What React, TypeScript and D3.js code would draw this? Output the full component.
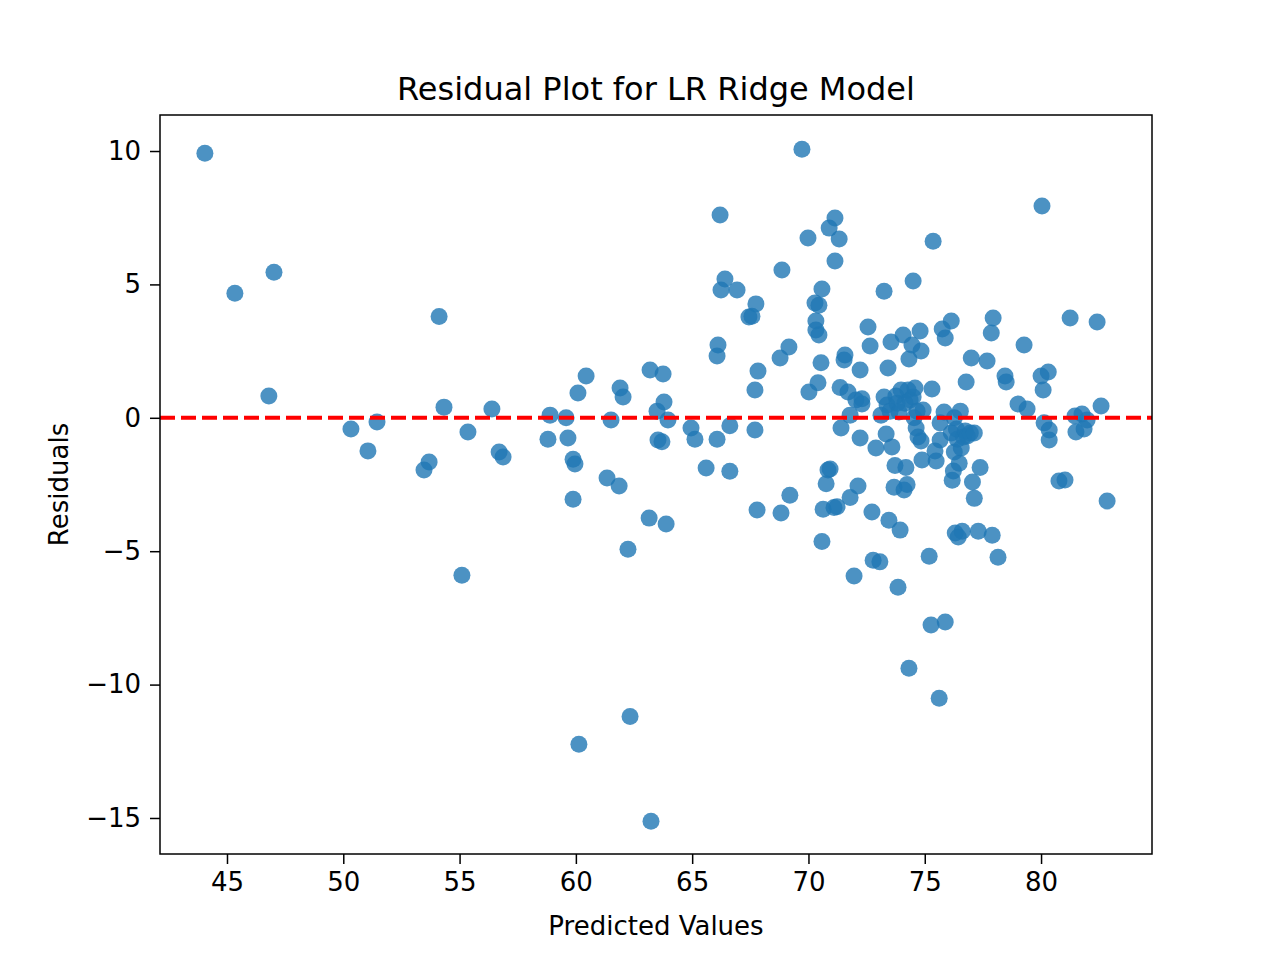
import React, { useRef, useEffect } from 'react';
import * as d3 from 'd3';

// predicted values and residuals
const predicted: number[] = [
  44.05, 45.34, 47.02, 46.8, 50.33, 51.06, 51.45, 53.47, 53.69, 54.12, 54.33, 55.1, 55.36, 56.39, 56.7, 56.87,
  58.8, 58.89, 59.58, 59.66, 59.88, 59.96, 59.88, 60.09, 60.44, 60.13, 61.34, 61.51, 61.86, 61.9, 62.03, 62.24,
  62.33, 63.15, 63.19, 63.23, 63.49, 63.53, 63.7, 63.75, 63.79, 63.88, 63.96, 64.95, 65.12, 65.6, 66.07, 66.07,
  66.11, 66.2, 66.24, 66.41, 66.62, 66.62, 66.93, 67.44, 67.57, 67.7, 67.74, 67.7, 67.79, 67.83, 68.78, 68.82,
  68.86, 69.16, 69.2, 69.72, 69.98, 70.02, 70.28, 70.32, 70.32, 70.45, 70.45, 70.41, 70.54, 70.58, 70.58, 70.63,
  70.76, 70.84, 70.93, 70.89, 71.14, 71.1, 71.23, 71.14, 71.32, 71.4, 71.36, 71.53, 71.57, 71.7, 71.79, 71.79,
  71.96, 72.04, 72.13, 72.22, 72.22, 72.3, 72.3, 72.56, 72.65, 72.73, 72.78, 72.9, 73.07, 73.12, 73.25, 73.25,
  73.34, 73.38, 73.42, 73.46, 73.51, 73.55, 73.59, 73.68, 73.72, 73.76, 73.81, 73.85, 73.89, 73.94, 73.98, 74.07,
  74.11, 74.15, 74.19, 74.24, 74.28, 74.32, 74.32, 74.37, 74.45, 74.5, 74.5, 74.54, 74.58, 74.63, 74.67, 74.71,
  74.8, 74.84, 74.84, 74.88, 74.93, 75.19, 75.27, 75.31, 75.36, 75.44, 75.49, 75.62, 75.66, 75.66, 75.75, 75.83,
  75.88, 75.88, 76.14, 76.14, 76.18, 76.23, 76.27, 76.27, 76.31, 76.36, 76.4, 76.44, 76.48, 76.53, 76.57, 76.61,
  76.66, 76.74, 76.78, 76.83, 76.96, 77.0, 77.05, 77.13, 77.13, 77.3, 77.38, 77.68, 77.86, 77.94, 77.9, 78.15,
  78.45, 78.5, 79.01, 79.27, 79.4, 80.04, 80.0, 80.09, 80.13, 80.31, 80.35, 80.35, 80.77, 81.03, 81.25, 81.46,
  81.5, 81.76, 81.85, 81.98, 82.41, 82.58, 82.84,
];
const residuals: number[] = [
  9.92, 4.67, 5.46, 0.82, -0.42, -1.24, -0.16, -1.96, -1.66, 3.8, 0.4, -5.9, -0.53, 0.33, -1.28, -1.47,
  -0.8, 0.1, 0, -0.76, -1.55, -1.73, -3.05, 0.93, 1.57, -12.24, -2.26, -0.08, -2.56, 1.12, 0.78, -4.93,
  -11.2, -3.76, 1.79, -15.12, 0.25, -0.83, -0.9, 1.64, 0.59, -3.98, -0.08, -0.38, -0.8, -1.88, -0.8, 2.32,
  2.73, 7.6, 4.79, 5.2, -0.3, -2.0, 4.79, 3.78, 3.81, 1.04, 4.27, -0.46, -3.46, 1.75, 2.24, -3.57,
  5.54, 2.65, -2.9, 10.07, 6.74, 0.97, 4.3, 3.63, 3.29, 3.1, 4.22, 1.31, 2.06, 4.83, -4.64, -3.43,
  -2.47, -1.96, -1.92, 7.11, 7.49, -3.36, -3.33, 5.88, 6.7, -0.38, 1.14, 2.17, 2.35, 0.97, -2.99, 0.1,
  -5.93, 0.67, -2.56, -0.76, 1.79, 0.71, 0.52, 3.4, 2.69, -3.53, -5.34, -1.13, -5.4, 0.1, 4.74, 0.78,
  -0.61, 0.48, 1.87, -3.84, 0.25, 2.84, -1.09, -2.6, -1.79, 0.82, 0.55, -6.35, 0.22, -4.21, 1.04, 3.1,
  -2.71, 0.55, -1.86, -2.5, 1.04, -9.39, 2.2, 0.67, 2.73, 0.78, 5.13, 0, 1.12, -0.38, 0.25, -0.72,
  3.25, -0.87, 2.5, -1.58, 0.29, -5.19, -7.77, 1.08, 6.62, -1.24, -1.62, -10.51, -0.83, -0.19, 3.33, 0.22,
  -7.65, 2.99, 3.63, -0.57, -2.34, -1.99, -1.28, 0, -4.32, -0.42, -0.8, -4.47, -1.7, 0.25, -1.13, -4.25,
  -0.72, -0.49, 1.34, -0.68, -0.57, 2.24, -2.41, -0.57, -3.02, -4.25, -1.86, 2.13, 3.18, 3.74, -4.4, -5.23,
  1.57, 1.34, 0.52, 2.73, 0.33, 7.94, 1.57, 1.04, -0.19, 1.72, -0.46, -0.83, -2.37, -2.33, 3.74, 0.07,
  -0.53, 0.14, -0.42, -0.08, 3.59, 0.44, -3.12,
];
const xTicks = [45, 50, 55, 60, 65, 70, 75, 80];
const yTicks = [10, 5, 0, -5, -10, -15];

const W = 1280;
const H = 960;
const margin = { top: 115, right: 128, bottom: 106, left: 160 };
const font = 'DejaVu Sans, sans-serif';

const App: React.FC = () => {
  const svgRef = useRef<SVGSVGElement | null>(null);

  useEffect(() => {
    const svg = d3.select(svgRef.current);
    svg.selectAll('*').remove();

    const x = d3.scaleLinear().domain([42.12, 84.77]).range([margin.left, W - margin.right]);
    const y = d3.scaleLinear().domain([-16.35, 11.35]).range([H - margin.bottom, margin.top]);

    svg.append('rect').attr('width', W).attr('height', H).attr('fill', '#fff');

    // points
    svg.append('g')
      .selectAll('circle')
      .data(predicted.map((p, i) => [p, residuals[i]]))
      .enter()
      .append('circle')
      .attr('cx', d => x(d[0]))
      .attr('cy', d => y(d[1]))
      .attr('r', 8.5)
      .attr('fill', '#1f77b4')
      .attr('fill-opacity', 0.8);

    // zero line
    svg.append('line')
      .attr('x1', margin.left).attr('x2', W - margin.right)
      .attr('y1', y(0)).attr('y2', y(0))
      .attr('stroke', 'red')
      .attr('stroke-width', 4)
      .attr('stroke-dasharray', '15,6');

    const xAxis = svg.append('g')
      .attr('transform', `translate(0,${H - margin.bottom})`)
      .call(d3.axisBottom(x).tickValues(xTicks).tickSize(10).tickPadding(9).tickFormat(d3.format('d')));
    const yAxis = svg.append('g')
      .attr('transform', `translate(${margin.left},0)`)
      .call(d3.axisLeft(y).tickValues(yTicks).tickSize(10).tickPadding(9)
        .tickFormat(d => (+d < 0 ? '\u2212' + Math.abs(+d) : String(d))));
    [xAxis, yAxis].forEach(a => {
      a.select('.domain').remove();
      a.selectAll('text').attr('font-family', font).attr('font-size', 26).attr('fill', '#000');
      a.selectAll('line').attr('stroke', '#000').attr('stroke-width', 1.5);
    });

    svg.append('rect')
      .attr('x', margin.left).attr('y', margin.top)
      .attr('width', W - margin.left - margin.right)
      .attr('height', H - margin.top - margin.bottom)
      .attr('fill', 'none').attr('stroke', '#000').attr('stroke-width', 1.5);

    svg.append('text')
      .attr('x', (margin.left + W - margin.right) / 2).attr('y', 100)
      .attr('text-anchor', 'middle').attr('font-family', font).attr('font-size', 32)
      .text('Residual Plot for LR Ridge Model');
    svg.append('text')
      .attr('x', (margin.left + W - margin.right) / 2).attr('y', 935)
      .attr('text-anchor', 'middle').attr('font-family', font).attr('font-size', 26)
      .text('Predicted Values');
    svg.append('text')
      .attr('transform', `translate(68,${(margin.top + H - margin.bottom) / 2}) rotate(-90)`)
      .attr('text-anchor', 'middle').attr('font-family', font).attr('font-size', 26)
      .text('Residuals');
  }, []);

  return <svg ref={svgRef} width={W} height={H} style={{ display: 'block', margin: -8 }}></svg>;
};

export default App;
